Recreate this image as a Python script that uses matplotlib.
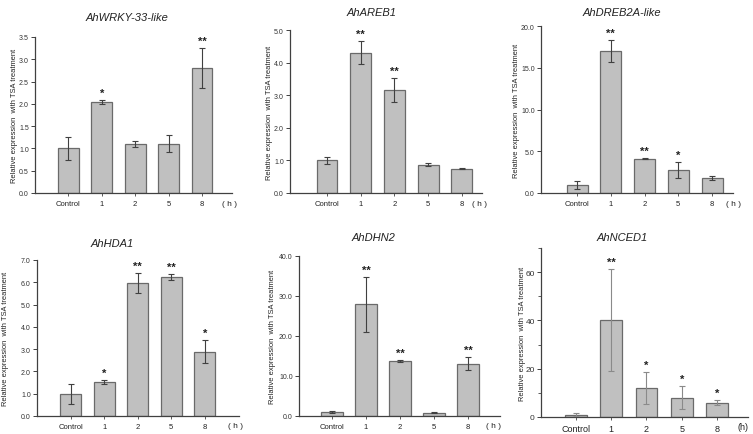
import matplotlib
matplotlib.use("Agg")
import matplotlib.pyplot as plt
from matplotlib.ticker import FormatStrFormatter, MultipleLocator

plt.rcParams['font.family'] = ['Liberation Sans', 'DejaVu Sans']

# time points
times = ['Control', '1', '2', '5', '8']

# relative expression (mean, error, significance)
wrky_mean = [1.0, 2.04, 1.10, 1.11, 2.80]
wrky_err = [0.25, 0.04, 0.07, 0.20, 0.45]
wrky_sig = ['', '*', '', '', '**']

areb_mean = [1.0, 4.30, 3.16, 0.87, 0.75]
areb_err = [0.10, 0.35, 0.37, 0.04, 0.02]
areb_sig = ['', '**', '**', '', '']

dreb_mean = [0.95, 17.0, 4.1, 2.75, 1.8]
dreb_err = [0.5, 1.3, 0.05, 0.95, 0.2]
dreb_sig = ['', '**', '**', '*', '']

hda_mean = [1.0, 1.53, 5.97, 6.24, 2.89]
hda_err = [0.45, 0.10, 0.43, 0.15, 0.52]
hda_sig = ['', '*', '**', '**', '*']

dhn_mean = [1.0, 27.9, 13.75, 0.85, 13.1]
dhn_err = [0.3, 6.8, 0.3, 0.1, 1.6]
dhn_sig = ['', '**', '**', '', '**']

nced_mean = [1.0, 40.2, 12.0, 8.0, 6.0]
nced_err = [0.5, 21.0, 6.6, 4.7, 1.1]
nced_sig = ['', '**', '*', '*', '*']

W, H = 753, 435
fig = plt.figure(figsize=(W / 100, H / 100), dpi=100)

BAR = '#c0c0c0'
EDGE = '#6a6a6a'
AX = '#404040'


def add_px_axes(left, right, top, bottom):
    return fig.add_axes([left / W, 1 - bottom / H, (right - left) / W, (bottom - top) / H])


def panel(box, xlim, title, title_xy, mean, err, sig, ymax, ystep, fmt, hlabel, h_x, ylab_x,
          minor=None, origin=False):
    ax = add_px_axes(*box)
    x = list(range(len(times)))
    ecol = '#8a8a8a' if origin else '#404040'
    ax.bar(x, mean, width=0.62, color=BAR, edgecolor=EDGE, linewidth=0.9, zorder=2)
    ax.errorbar(x, mean, yerr=err, fmt='none', ecolor=ecol, elinewidth=0.8,
                capsize=2, capthick=0.8, zorder=3)
    for xi, m, e, s in zip(x, mean, err, sig):
        if s:
            ax.annotate(s, (xi, m + e), xytext=(0, 1.5), textcoords='offset points',
                        ha='center', va='bottom', fontsize=8, fontweight='bold',
                        color='#222222')
    ax.set_xlim(*xlim)
    ax.set_ylim(0, ymax)
    if origin:
        ax.set_yticks([0, 20, 40, 60])
    else:
        ax.set_yticks([i * ystep for i in range(int(round(ymax / ystep)) + 1)])
    ax.yaxis.set_major_formatter(FormatStrFormatter(fmt))
    if minor:
        ax.yaxis.set_minor_locator(MultipleLocator(minor))
        ax.tick_params(axis='y', which='minor', length=2, width=0.6, color=AX)
    ax.set_xticks(x)
    ax.set_xticklabels(times)
    for side in ['top', 'right']:
        ax.spines[side].set_visible(False)
    for side in ['left', 'bottom']:
        ax.spines[side].set_color(AX)
        ax.spines[side].set_linewidth(0.9)
    ax.tick_params(axis='y', length=3, width=0.7, color=AX, labelsize=5 if not origin else 6,
                   pad=1.5, labelcolor='#333333')
    ax.tick_params(axis='x', length=2, width=0.6, color=AX, labelsize=5.5 if not origin else 6.5,
                   pad=3, labelcolor='#222222')
    fig.text(title_xy[0] / W, 1 - title_xy[1] / H, title, fontsize=8, style='italic',
             ha='center', va='center', color='#222222')
    fig.text(h_x / W, 1 - (box[3] + 10) / H, hlabel, ha='center', va='center',
             fontsize=6 if not origin else 6.5, color='#222222')
    ax.set_ylabel('Relative expression  with TSA treatment', fontsize=5.4, color='#222222')
    # label anchor sits at the right side of the rotated text, so shift by half its height
    ax.yaxis.set_label_coords((ylab_x + 4 - box[0]) / (box[1] - box[0]), 0.5)
    return ax


panel((35, 232, 38, 194), (-1.0, 4.9), 'AhWRKY-33-like', (127, 18), wrky_mean, wrky_err,
      wrky_sig, 3.5, 0.5, '%.1f', '( h )', 230, 14)
panel((290, 482, 31, 194), (-1.1, 4.6), 'AhAREB1', (372, 13), areb_mean, areb_err, areb_sig,
      5.0, 1.0, '%.1f', '( h )', 480, 269)
panel((541, 733, 27, 194), (-1.07, 4.62), 'AhDREB2A-like', (622, 13), dreb_mean, dreb_err,
      dreb_sig, 20.0, 5.0, '%.1f', '( h )', 733, 516)
panel((37, 239, 261, 417), (-1.01, 5.02), 'AhHDA1', (112, 244), hda_mean, hda_err, hda_sig,
      7.0, 1.0, '%.1f', '( h )', 235, 5)
panel((299, 500, 257, 417), (-0.97, 4.94), 'AhDHN2', (373, 238), dhn_mean, dhn_err, dhn_sig,
      40.0, 10.0, '%.1f', '( h )', 494, 272)
panel((541, 748, 249, 418), (-0.99, 4.88), 'AhNCED1', (622, 238), nced_mean, nced_err,
      nced_sig, 70, 20, '%d', '(h)', 743, 522, minor=10, origin=True)

fig.savefig('out.png', dpi=100)
